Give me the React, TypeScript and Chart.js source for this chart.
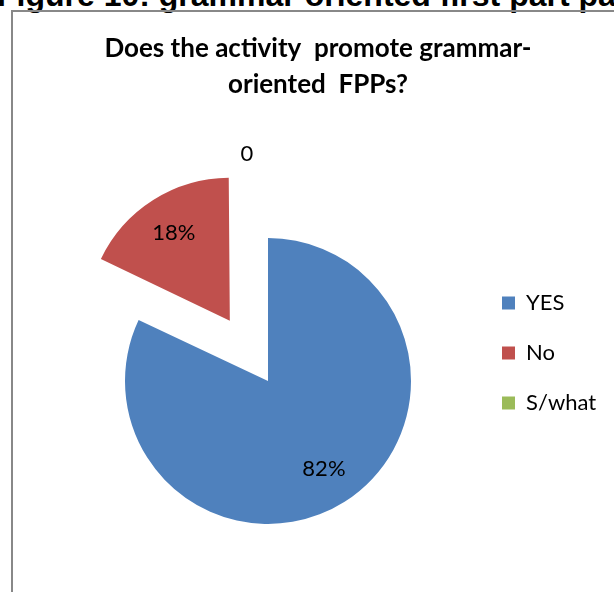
import React, { useEffect, useRef } from "react";
import { Chart, registerables } from "chart.js";

Chart.register(...registerables);

// ---- data ----
const categories = ["YES", "No", "S/what"];
const values = [82, 18, 0];
const sliceColors = ["#4F81BD", "#C0504D", "#9BBB59"];
const sliceOffsets = [0, 285, 0];
const dataLabels = values.map((v) => (v > 0 ? `${v}%` : `${v}`));
const titleLines = ["Does the activity  promote grammar-", "oriented  FPPs?"];
const captionText = "Figure 10: grammar oriented first part pa";

const PIE_RADIUS = 143;

const radiusFixPlugin = {
  id: "radiusFix",
  beforeDatasetsDraw(chart: any) {
    const meta = chart.getDatasetMeta(0);
    meta.data.forEach((arc: any, i: number) => {
      const off = (sliceOffsets[i] || 0) / 4;
      const circ = arc.circumference || 0;
      const fix = 1 - Math.sin(Math.min(Math.PI, circ));
      arc.outerRadius = PIE_RADIUS - off * fix;
    });
  },
};

const labelPlugin = {
  id: "sliceLabels",
  afterDatasetsDraw(chart: any) {
    const ctx = chart.ctx;
    const meta = chart.getDatasetMeta(0);
    ctx.save();
    ctx.font = "22px Lato";
    ctx.fillStyle = "#000";
    ctx.textAlign = "center";
    ctx.textBaseline = "middle";
    meta.data.forEach((arc: any, i: number) => {
      const { x, y, startAngle, endAngle } = arc;
      const mid = (startAngle + endAngle) / 2;
      const shift = (sliceOffsets[i] || 0) / 4;
      const cx = x + Math.cos(mid) * shift;
      const cy = y + Math.sin(mid) * shift;
      let lx: number;
      let ly: number;
      if (values[i] === 0) {
        lx = cx + Math.cos(mid) * PIE_RADIUS * 1.585 - 21;
        ly = cy + Math.sin(mid) * PIE_RADIUS * 1.585;
      } else {
        lx = cx + Math.cos(mid) * PIE_RADIUS * 0.73;
        ly = cy + Math.sin(mid) * PIE_RADIUS * 0.73;
      }
      ctx.fillText(dataLabels[i], lx, ly);
    });
    ctx.restore();
  },
};

export default function App() {
  const canvasRef = useRef<HTMLCanvasElement | null>(null);

  useEffect(() => {
    if (!canvasRef.current) return;
    const chart = new Chart(canvasRef.current, {
      type: "pie",
      data: {
        labels: categories,
        datasets: [
          {
            data: values,
            backgroundColor: sliceColors,
            borderWidth: 0,
            offset: sliceOffsets,
            radius: PIE_RADIUS,
            clip: false,
          } as any,
        ],
      },
      options: {
        responsive: false,
        animation: false,
        devicePixelRatio: 1,
        layout: { padding: { left: 24, right: 15, top: 0, bottom: 94 } },
        scales: {
          spacer: {
            type: "linear",
            position: "left",
            display: true,
            grid: { display: false },
            border: { display: false },
            ticks: { display: false },
            afterFit: (s: any) => {
              s.width = 25;
            },
          },
        },
        plugins: {
          title: {
            display: true,
            fullSize: true,
            text: titleLines,
            color: "#000",
            font: { family: "Lato", size: 26, weight: "bold", lineHeight: 1.4 },
            padding: { top: 18.3, bottom: 160.9 },
          },
          legend: {
            position: "right",
            align: "start",
            fullSize: false,
            maxWidth: 125,
            labels: {
              boxWidth: 13,
              boxHeight: 13,
              padding: 28,
              color: "#000",
              font: { family: "Lato", size: 22 },
            },
          },
          tooltip: { enabled: false },
        },
      } as any,
      plugins: [radiusFixPlugin, labelPlugin],
    });
    return () => chart.destroy();
  }, []);

  return (
    <div
      style={{
        position: "absolute",
        left: 0,
        top: 0,
        width: 614,
        height: 592,
        overflow: "hidden",
        background: "#fff",
      }}
    >
      <div
        style={{
          position: "absolute",
          left: -3,
          top: -21,
          whiteSpace: "nowrap",
          fontFamily: "'Liberation Sans', Arial, sans-serif",
          fontWeight: "bold",
          fontSize: 32,
          lineHeight: "32px",
          color: "#000",
        }}
      >
        {captionText}
      </div>
      <div
        style={{
          position: "absolute",
          left: 11,
          top: 10,
          width: 640,
          height: 640,
          border: "2px solid #888",
          boxSizing: "border-box",
        }}
      />
      <canvas
        ref={canvasRef}
        width={601}
        height={580}
        style={{ position: "absolute", left: 13, top: 12, width: 601, height: 580 }}
      />
    </div>
  );
}
